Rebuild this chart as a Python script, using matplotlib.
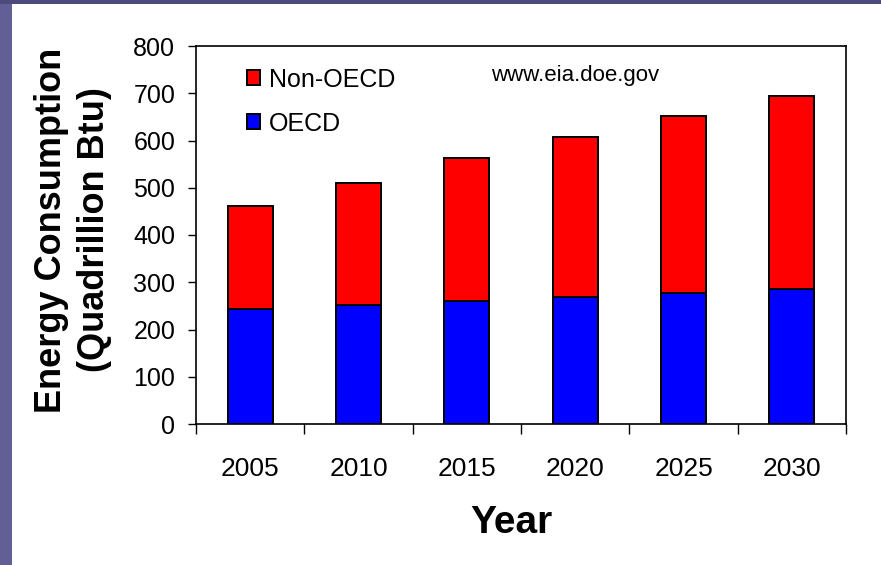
import matplotlib.pyplot as plt
import numpy as np
from matplotlib.patches import Rectangle

years = ['2005', '2010', '2015', '2020', '2025', '2030']
oecd = [243, 252, 260, 269, 278, 286]
non_oecd = [219, 259, 303, 339, 374, 409]


def main():
    plt.rcParams['font.family'] = ['Liberation Sans', 'DejaVu Sans']
    fig = plt.figure(figsize=(8.81, 5.65), dpi=100)

    # faixas roxas da borda do slide
    fig.patches.append(Rectangle((0, 0), 12 / 881, 1, transform=fig.transFigure,
                                 facecolor='#625e96', edgecolor='none', zorder=0))
    fig.patches.append(Rectangle((0, 1 - 4 / 565), 1, 4 / 565, transform=fig.transFigure,
                                 facecolor='#4d4b7e', edgecolor='none', zorder=0))

    ax = fig.add_axes([196 / 881, 141 / 565, 650 / 881, 378 / 565])
    index = np.arange(len(years))
    w = 0.415
    ax.bar(index, oecd, w, color='#0000ff', edgecolor='black', linewidth=1.4, label='OECD')
    ax.bar(index, non_oecd, w, bottom=oecd, color='#ff0000', edgecolor='black',
           linewidth=1.4, label='Non-OECD')

    ax.set_xlim(-0.5, len(years) - 0.5)
    ax.set_ylim(0, 800)
    ax.set_yticks(range(0, 801, 100))
    ax.tick_params(axis='y', labelsize=18, length=6, width=1, direction='out', pad=9)

    ax.set_xticks(index)
    ax.set_xticklabels(years)
    ax.tick_params(axis='x', which='major', length=0, labelsize=19, pad=24)
    ax.set_xticks(np.arange(-0.5, len(years)), minor=True)
    ax.tick_params(axis='x', which='minor', length=7, width=1, direction='out')

    for s in ax.spines.values():
        s.set_linewidth(1.2)

    fig.text(511 / 881, 1 - 523 / 565, 'Year', fontsize=28, fontweight='bold',
             ha='center', va='center')
    fig.text(73 / 881, 1 - 230 / 565, 'Energy Consumption\n(Quadrillion Btu)',
             fontsize=26, fontweight='bold', rotation=90, ha='center', va='center',
             multialignment='center', linespacing=1.3)

    h, l = ax.get_legend_handles_labels()
    ax.legend(h[::-1], l[::-1], loc='upper left', bbox_to_anchor=(0.078, 0.943),
              frameon=False, fontsize=18, handlelength=0.55, handleheight=0.55,
              labelspacing=0.8, handletextpad=0.35, borderpad=0, borderaxespad=0)

    ax.text(0.583, 0.922, 'www.eia.doe.gov', transform=ax.transAxes, fontsize=16,
            ha='center', va='center')

    fig.savefig('out.png', dpi=100)


if __name__ == "__main__":
    main()
